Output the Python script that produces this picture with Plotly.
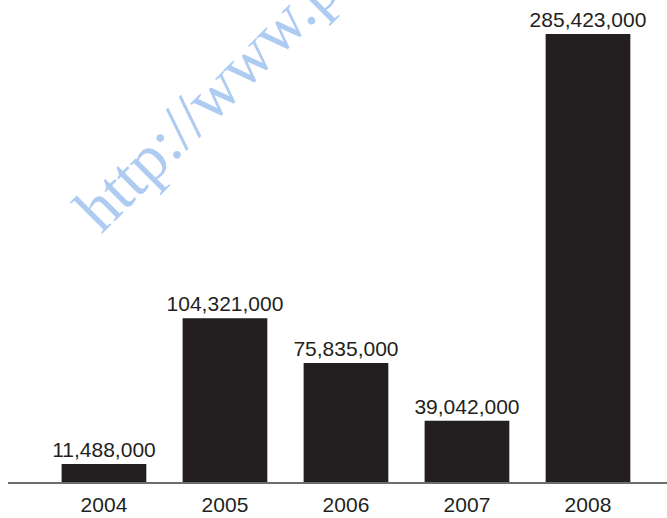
import plotly.graph_objects as go

years = ["2004", "2005", "2006", "2007", "2008"]
values = [11488000, 104321000, 75835000, 39042000, 285423000]
labels = ["11,488,000", "104,321,000", "75,835,000", "39,042,000", "285,423,000"]

xpos = list(range(len(years)))

fig = go.Figure()
fig.add_trace(go.Bar(
    x=xpos, y=values, width=0.70,
    marker=dict(color="#231f20", line=dict(width=0)),
    text=labels, textposition="outside", constraintext="none",
    textfont=dict(family="Liberation Sans, Arial, sans-serif", size=21, color="#231f20"),
    cliponaxis=False,
))

fig.add_annotation(
    text="http://www.p", xref="paper", yref="paper", x=0.3005, y=0.7946,
    xanchor="center", yanchor="middle", showarrow=False, textangle=-45,
    font=dict(family="Liberation Serif, Times New Roman, serif", size=65, color="#aecbf2"),
)

fig.update_layout(
    width=667, height=518,
    margin=dict(l=8, r=0, t=0, b=36),
    paper_bgcolor="white", plot_bgcolor="white",
    showlegend=False,
    xaxis=dict(
        range=[-0.793, 4.653], tickvals=xpos, ticktext=years,
        showline=True, linecolor="#6d6d6d", linewidth=2,
        showgrid=False, zeroline=False,
        ticks="outside", ticklen=3, tickcolor="rgba(0,0,0,0)",
        tickfont=dict(family="Liberation Sans, Arial, sans-serif", size=21, color="#231f20"),
    ),
    yaxis=dict(range=[0, 307.1e6], visible=False, showgrid=False, zeroline=False),
)

fig.write_html("out.html")
